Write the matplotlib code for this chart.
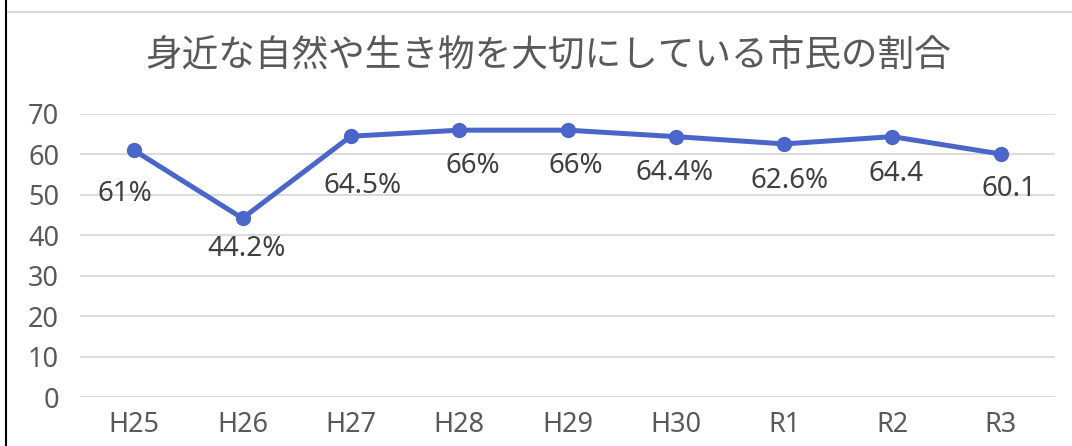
import matplotlib.pyplot as plt
from matplotlib.lines import Line2D

plt.rcParams['font.family'] = ['Noto Sans', 'Noto Sans CJK JP', 'DejaVu Sans']

# data
years = ['H25', 'H26', 'H27', 'H28', 'H29', 'H30', 'R1', 'R2', 'R3']
values = [61, 44.2, 64.5, 66, 66, 64.4, 62.6, 64.4, 60.1]
labels = ['61%', '44.2%', '64.5%', '66%', '66%', '64.4%', '62.6%', '64.4', '60.1']
yticks = [0, 10, 20, 30, 40, 50, 60, 70]

# label placement below each point (pixels: right, down to text middle)
label_dx = [-9, 4, 12, 14, 8, -1, 5, 4, 8]
label_dy = [41, 28, 47, 33, 33, 33, 34, 34, 32]

blue = '#4a66c9'
gray = '#595959'

fig = plt.figure(figsize=(10.72, 4.46), dpi=100)
ax = fig.add_axes([80/1072, 1-397/446, 975/1072, (397-114)/446])

x = range(len(years))
ax.plot(x, values, color=blue, lw=3.6, marker='o', ms=10, solid_capstyle='round')
for i, (v, t) in enumerate(zip(values, labels)):
    ax.annotate(t, (i, v), xytext=(label_dx[i]*0.72, -(label_dy[i] + 10)*0.72),
                textcoords='offset points', ha='center', va='baseline',
                fontsize=20, color='#404040')

ax.set_xlim(-0.5, len(years) - 0.5)
ax.set_ylim(0, 70)
ax.set_yticks(yticks)
ax.set_xticks(list(x))
ax.set_xticklabels(years)
ax.tick_params(length=0, labelsize=19.5, colors=gray, pad=10)
ax.tick_params(axis='y', pad=15)
ax.grid(axis='y', color='#d9d9d9', lw=1.3)
ax.set_axisbelow(True)
for s in ax.spines.values():
    s.set_visible(False)

fig.text(548/1072, 1-55/446, '身近な自然や生き物を大切にしている市民の割合',
         ha='center', va='center', fontsize=26.4, color=gray,
         family=['Noto Sans CJK JP', 'DejaVu Sans'])

# frame lines
fig.add_artist(Line2D([7/1072, 1], [1-12/446, 1-12/446], color='#d9d9d9', lw=1.5))
fig.add_artist(Line2D([6/1072, 6/1072], [0, 1], color='black', lw=1.5))

fig.savefig('out.png', dpi=100)
